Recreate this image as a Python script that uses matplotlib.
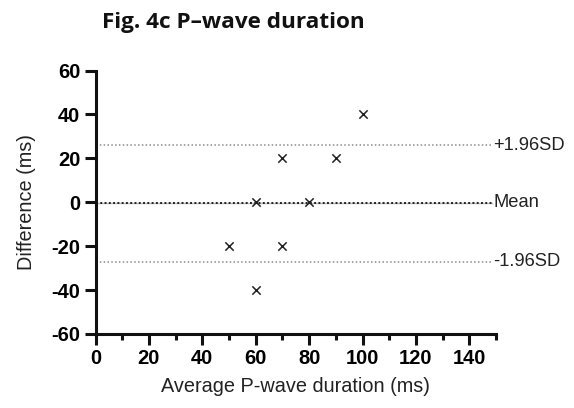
import matplotlib
matplotlib.use("Agg")
import matplotlib.pyplot as plt
from matplotlib.ticker import MultipleLocator

plt.rcParams["axes.unicode_minus"] = False

# Bland-Altman points (average, difference)
avg = [50, 60, 60, 70, 70, 80, 90, 100]
diff = [-20, 0, -40, 20, -20, 0, 20, 40]
mean_diff = -0.3
upper_loa = 26
lower_loa = -27
line_labels = ["+1.96SD", "Mean", "-1.96SD"]

fig = plt.figure(figsize=(5.74, 4.08), dpi=100)
ax = fig.add_axes([0.1664, 0.1814, 0.6977, 0.6458])

x0, x1 = 0, 148.5
ax.plot([x0, x1], [mean_diff, mean_diff], color="#bbbbbb", lw=1.0, zorder=1)
ax.plot([x0, x1], [mean_diff, mean_diff], color="#222222", lw=1.4, ls=(0, (1, 1.2)), zorder=2)
for y in (upper_loa, lower_loa):
    ax.plot([x0, x1], [y, y], color="#8c8c8c", lw=1.1, ls=(0, (1, 1.5)), zorder=2)

ax.scatter(avg, diff, marker="x", s=36, color="#222222", linewidths=1.1, zorder=3)

for y, lab in zip([upper_loa, mean_diff, lower_loa], line_labels):
    ax.text(149, y, lab, va="center", ha="left", fontsize=13.2,
            family="Liberation Sans", color="#222222")

ax.set_xlim(0, 150)
ax.set_ylim(-60, 60)
ax.xaxis.set_major_locator(MultipleLocator(20))
ax.xaxis.set_minor_locator(MultipleLocator(10))
ax.yaxis.set_major_locator(MultipleLocator(20))

for s in ("top", "right"):
    ax.spines[s].set_visible(False)
for s in ("left", "bottom"):
    ax.spines[s].set_linewidth(2.2)
    ax.spines[s].set_color("#111111")
ax.tick_params(which="major", direction="out", length=8, width=2.2, color="#111111", pad=3)
ax.tick_params(which="minor", direction="out", length=4.5, width=2.2, color="#111111")
for t in ax.get_xticklabels() + ax.get_yticklabels():
    t.set_fontfamily("Liberation Sans")
    t.set_fontweight("bold")
    t.set_fontsize(14.5)

ax.set_xlabel("Average P-wave duration (ms)", fontsize=14.3, family="Liberation Sans",
              labelpad=6.5, color="#222222")
ax.set_ylabel("Difference (ms)", fontsize=14.3, family="Liberation Sans",
              labelpad=11, color="#222222")

fig.text(0.177, 0.944, "Fig. 4c P\u2013wave duration", fontsize=16.2, fontweight="bold",
         family="Open Sans", va="center", ha="left", color="#111111")

fig.savefig("out.png", dpi=100)
